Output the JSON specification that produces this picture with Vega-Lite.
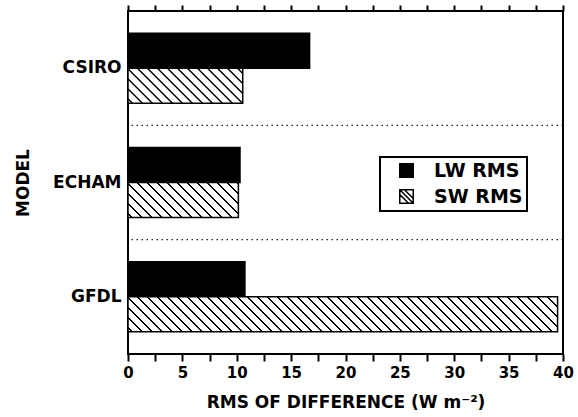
{
"$schema": "https://vega.github.io/schema/vega-lite/v6.json",
"width": 435, "height": 343,
"autosize": "none",
"padding": {"left": 128, "top": 11, "right": 15, "bottom": 63},
"background": "white",
"config": {"view": {"stroke": "black", "strokeWidth": 2}, "font": "DejaVu Sans", "axis": {"grid": false}},
"data": {"values": [
 {"model": "CSIRO", "type": "LW RMS", "value": 16.7},
 {"model": "CSIRO", "type": "SW RMS", "value": 10.55},
 {"model": "ECHAM", "type": "LW RMS", "value": 10.3},
 {"model": "ECHAM", "type": "SW RMS", "value": 10.15},
 {"model": "GFDL", "type": "LW RMS", "value": 10.75},
 {"model": "GFDL", "type": "SW RMS", "value": 39.5}
]},
"resolve": {"axis": {"x": "independent"}},
"layer": [
 {"mark": {"type": "bar", "stroke": "black", "strokeWidth": 1.5},
  "encoding": {
   "y": {"field": "model", "type": "nominal", "scale": {"domain": ["CSIRO", "ECHAM", "GFDL"], "paddingInner": 0, "paddingOuter": 0},
    "axis": {"title": "MODEL", "ticks": false, "domain": false, "labelFont": "DejaVu Sans", "labelFontWeight": "bold", "labelFontSize": 17, "labelColor": "black", "labelPadding": 7, "titleFont": "DejaVu Sans", "titleFontWeight": "bold", "titleFontSize": 17, "titleColor": "black", "titlePadding": 20}},
   "yOffset": {"field": "type", "type": "nominal", "scale": {"domain": ["LW RMS", "SW RMS"], "paddingInner": 0, "paddingOuter": 0.633}},
   "x": {"field": "value", "type": "quantitative", "scale": {"domain": [0, 40], "nice": false},
    "axis": {"orient": "bottom", "title": "RMS OF DIFFERENCE (W m⁻²)", "values": [0,2.5,5,7.5,10,12.5,15,17.5,20,22.5,25,27.5,30,32.5,35,37.5,40], "domain": false, "ticks": true, "tickSize": 7, "tickWidth": 2, "tickColor": "black", "labelExpr": "datum.value % 5 === 0 ? datum.label : ''", "labelOverlap": false, "labelFlush": false, "labelFont": "DejaVu Sans", "labelFontWeight": "bold", "labelFontSize": 15, "labelColor": "black", "labelPadding": 4, "titleFont": "DejaVu Sans", "titleFontWeight": "bold", "titleFontSize": 17, "titleColor": "black", "titlePadding": 14,
     "encode": {"ticks": {"update": {"y2": {"signal": "datum.value % 5 === 0 ? -7 : -4"}}}}}},
   "color": {"field": "type", "type": "nominal",
    "scale": {"domain": ["LW RMS", "SW RMS"], "range": ["black", "white"]},
    "condition": [
     {"test": "datum.model === 'CSIRO' && datum.type === 'SW RMS'", "value": {"gradient": "linear", "x1": 0, "y1": 1, "x2": 3.988, "y2": -0.2169, "stops": [
{"offset":0.006,"color":"#fff"},{"offset":0.007,"color":"#000"},{"offset":0.01,"color":"#000"},{"offset":0.011,"color":"#fff"},
{"offset":0.026,"color":"#fff"},{"offset":0.027,"color":"#000"},{"offset":0.03,"color":"#000"},{"offset":0.031,"color":"#fff"},
{"offset":0.046,"color":"#fff"},{"offset":0.047,"color":"#000"},{"offset":0.05,"color":"#000"},{"offset":0.051,"color":"#fff"},
{"offset":0.066,"color":"#fff"},{"offset":0.067,"color":"#000"},{"offset":0.07,"color":"#000"},{"offset":0.071,"color":"#fff"},
{"offset":0.086,"color":"#fff"},{"offset":0.087,"color":"#000"},{"offset":0.09,"color":"#000"},{"offset":0.091,"color":"#fff"},
{"offset":0.106,"color":"#fff"},{"offset":0.107,"color":"#000"},{"offset":0.11,"color":"#000"},{"offset":0.111,"color":"#fff"},
{"offset":0.126,"color":"#fff"},{"offset":0.127,"color":"#000"},{"offset":0.13,"color":"#000"},{"offset":0.131,"color":"#fff"},
{"offset":0.146,"color":"#fff"},{"offset":0.147,"color":"#000"},{"offset":0.15,"color":"#000"},{"offset":0.151,"color":"#fff"},
{"offset":0.166,"color":"#fff"},{"offset":0.167,"color":"#000"},{"offset":0.17,"color":"#000"},{"offset":0.171,"color":"#fff"},
{"offset":0.186,"color":"#fff"},{"offset":0.187,"color":"#000"},{"offset":0.19,"color":"#000"},{"offset":0.191,"color":"#fff"},
{"offset":0.206,"color":"#fff"},{"offset":0.207,"color":"#000"},{"offset":0.21,"color":"#000"},{"offset":0.211,"color":"#fff"},
{"offset":0.226,"color":"#fff"},{"offset":0.227,"color":"#000"},{"offset":0.23,"color":"#000"},{"offset":0.231,"color":"#fff"},
{"offset":0.246,"color":"#fff"},{"offset":0.247,"color":"#000"},{"offset":0.25,"color":"#000"},{"offset":0.251,"color":"#fff"},
{"offset":0.266,"color":"#fff"},{"offset":0.267,"color":"#000"},{"offset":0.27,"color":"#000"},{"offset":0.271,"color":"#fff"},
{"offset":0.286,"color":"#fff"},{"offset":0.287,"color":"#000"},{"offset":0.29,"color":"#000"},{"offset":0.291,"color":"#fff"}
     ]}},
     {"test": "datum.model === 'ECHAM' && datum.type === 'SW RMS'", "value": {"gradient": "linear", "x1": 0, "y1": 1, "x2": 4.115, "y2": -0.3047, "stops": [
{"offset":0.006,"color":"#fff"},{"offset":0.007,"color":"#000"},{"offset":0.01,"color":"#000"},{"offset":0.011,"color":"#fff"},
{"offset":0.026,"color":"#fff"},{"offset":0.027,"color":"#000"},{"offset":0.03,"color":"#000"},{"offset":0.031,"color":"#fff"},
{"offset":0.046,"color":"#fff"},{"offset":0.047,"color":"#000"},{"offset":0.05,"color":"#000"},{"offset":0.051,"color":"#fff"},
{"offset":0.066,"color":"#fff"},{"offset":0.067,"color":"#000"},{"offset":0.07,"color":"#000"},{"offset":0.071,"color":"#fff"},
{"offset":0.086,"color":"#fff"},{"offset":0.087,"color":"#000"},{"offset":0.09,"color":"#000"},{"offset":0.091,"color":"#fff"},
{"offset":0.106,"color":"#fff"},{"offset":0.107,"color":"#000"},{"offset":0.11,"color":"#000"},{"offset":0.111,"color":"#fff"},
{"offset":0.126,"color":"#fff"},{"offset":0.127,"color":"#000"},{"offset":0.13,"color":"#000"},{"offset":0.131,"color":"#fff"},
{"offset":0.146,"color":"#fff"},{"offset":0.147,"color":"#000"},{"offset":0.15,"color":"#000"},{"offset":0.151,"color":"#fff"},
{"offset":0.166,"color":"#fff"},{"offset":0.167,"color":"#000"},{"offset":0.17,"color":"#000"},{"offset":0.171,"color":"#fff"},
{"offset":0.186,"color":"#fff"},{"offset":0.187,"color":"#000"},{"offset":0.19,"color":"#000"},{"offset":0.191,"color":"#fff"},
{"offset":0.206,"color":"#fff"},{"offset":0.207,"color":"#000"},{"offset":0.21,"color":"#000"},{"offset":0.211,"color":"#fff"},
{"offset":0.226,"color":"#fff"},{"offset":0.227,"color":"#000"},{"offset":0.23,"color":"#000"},{"offset":0.231,"color":"#fff"},
{"offset":0.246,"color":"#fff"},{"offset":0.247,"color":"#000"},{"offset":0.25,"color":"#000"},{"offset":0.251,"color":"#fff"},
{"offset":0.266,"color":"#fff"},{"offset":0.267,"color":"#000"},{"offset":0.27,"color":"#000"},{"offset":0.271,"color":"#fff"},
{"offset":0.286,"color":"#fff"},{"offset":0.287,"color":"#000"},{"offset":0.29,"color":"#000"},{"offset":0.291,"color":"#fff"}
     ]}},
     {"test": "datum.model === 'GFDL' && datum.type === 'SW RMS'", "value": {"gradient": "linear", "x1": 0, "y1": 1, "x2": 1.1562, "y2": 0.9058, "stops": [
{"offset":0.006,"color":"#fff"},{"offset":0.007,"color":"#000"},{"offset":0.01,"color":"#000"},{"offset":0.011,"color":"#fff"},
{"offset":0.026,"color":"#fff"},{"offset":0.027,"color":"#000"},{"offset":0.03,"color":"#000"},{"offset":0.031,"color":"#fff"},
{"offset":0.046,"color":"#fff"},{"offset":0.047,"color":"#000"},{"offset":0.05,"color":"#000"},{"offset":0.051,"color":"#fff"},
{"offset":0.066,"color":"#fff"},{"offset":0.067,"color":"#000"},{"offset":0.07,"color":"#000"},{"offset":0.071,"color":"#fff"},
{"offset":0.086,"color":"#fff"},{"offset":0.087,"color":"#000"},{"offset":0.09,"color":"#000"},{"offset":0.091,"color":"#fff"},
{"offset":0.106,"color":"#fff"},{"offset":0.107,"color":"#000"},{"offset":0.11,"color":"#000"},{"offset":0.111,"color":"#fff"},
{"offset":0.126,"color":"#fff"},{"offset":0.127,"color":"#000"},{"offset":0.13,"color":"#000"},{"offset":0.131,"color":"#fff"},
{"offset":0.146,"color":"#fff"},{"offset":0.147,"color":"#000"},{"offset":0.15,"color":"#000"},{"offset":0.151,"color":"#fff"},
{"offset":0.166,"color":"#fff"},{"offset":0.167,"color":"#000"},{"offset":0.17,"color":"#000"},{"offset":0.171,"color":"#fff"},
{"offset":0.186,"color":"#fff"},{"offset":0.187,"color":"#000"},{"offset":0.19,"color":"#000"},{"offset":0.191,"color":"#fff"},
{"offset":0.206,"color":"#fff"},{"offset":0.207,"color":"#000"},{"offset":0.21,"color":"#000"},{"offset":0.211,"color":"#fff"},
{"offset":0.226,"color":"#fff"},{"offset":0.227,"color":"#000"},{"offset":0.23,"color":"#000"},{"offset":0.231,"color":"#fff"},
{"offset":0.246,"color":"#fff"},{"offset":0.247,"color":"#000"},{"offset":0.25,"color":"#000"},{"offset":0.251,"color":"#fff"},
{"offset":0.266,"color":"#fff"},{"offset":0.267,"color":"#000"},{"offset":0.27,"color":"#000"},{"offset":0.271,"color":"#fff"},
{"offset":0.286,"color":"#fff"},{"offset":0.287,"color":"#000"},{"offset":0.29,"color":"#000"},{"offset":0.291,"color":"#fff"},
{"offset":0.306,"color":"#fff"},{"offset":0.307,"color":"#000"},{"offset":0.31,"color":"#000"},{"offset":0.311,"color":"#fff"},
{"offset":0.326,"color":"#fff"},{"offset":0.327,"color":"#000"},{"offset":0.33,"color":"#000"},{"offset":0.331,"color":"#fff"},
{"offset":0.346,"color":"#fff"},{"offset":0.347,"color":"#000"},{"offset":0.35,"color":"#000"},{"offset":0.351,"color":"#fff"},
{"offset":0.366,"color":"#fff"},{"offset":0.367,"color":"#000"},{"offset":0.37,"color":"#000"},{"offset":0.371,"color":"#fff"},
{"offset":0.386,"color":"#fff"},{"offset":0.387,"color":"#000"},{"offset":0.39,"color":"#000"},{"offset":0.391,"color":"#fff"},
{"offset":0.406,"color":"#fff"},{"offset":0.407,"color":"#000"},{"offset":0.41,"color":"#000"},{"offset":0.411,"color":"#fff"},
{"offset":0.426,"color":"#fff"},{"offset":0.427,"color":"#000"},{"offset":0.43,"color":"#000"},{"offset":0.431,"color":"#fff"},
{"offset":0.446,"color":"#fff"},{"offset":0.447,"color":"#000"},{"offset":0.45,"color":"#000"},{"offset":0.451,"color":"#fff"},
{"offset":0.466,"color":"#fff"},{"offset":0.467,"color":"#000"},{"offset":0.47,"color":"#000"},{"offset":0.471,"color":"#fff"},
{"offset":0.486,"color":"#fff"},{"offset":0.487,"color":"#000"},{"offset":0.49,"color":"#000"},{"offset":0.491,"color":"#fff"},
{"offset":0.506,"color":"#fff"},{"offset":0.507,"color":"#000"},{"offset":0.51,"color":"#000"},{"offset":0.511,"color":"#fff"},
{"offset":0.526,"color":"#fff"},{"offset":0.527,"color":"#000"},{"offset":0.53,"color":"#000"},{"offset":0.531,"color":"#fff"},
{"offset":0.546,"color":"#fff"},{"offset":0.547,"color":"#000"},{"offset":0.55,"color":"#000"},{"offset":0.551,"color":"#fff"},
{"offset":0.566,"color":"#fff"},{"offset":0.567,"color":"#000"},{"offset":0.57,"color":"#000"},{"offset":0.571,"color":"#fff"},
{"offset":0.586,"color":"#fff"},{"offset":0.587,"color":"#000"},{"offset":0.59,"color":"#000"},{"offset":0.591,"color":"#fff"},
{"offset":0.606,"color":"#fff"},{"offset":0.607,"color":"#000"},{"offset":0.61,"color":"#000"},{"offset":0.611,"color":"#fff"},
{"offset":0.626,"color":"#fff"},{"offset":0.627,"color":"#000"},{"offset":0.63,"color":"#000"},{"offset":0.631,"color":"#fff"},
{"offset":0.646,"color":"#fff"},{"offset":0.647,"color":"#000"},{"offset":0.65,"color":"#000"},{"offset":0.651,"color":"#fff"},
{"offset":0.666,"color":"#fff"},{"offset":0.667,"color":"#000"},{"offset":0.67,"color":"#000"},{"offset":0.671,"color":"#fff"},
{"offset":0.686,"color":"#fff"},{"offset":0.687,"color":"#000"},{"offset":0.69,"color":"#000"},{"offset":0.691,"color":"#fff"},
{"offset":0.706,"color":"#fff"},{"offset":0.707,"color":"#000"},{"offset":0.71,"color":"#000"},{"offset":0.711,"color":"#fff"},
{"offset":0.726,"color":"#fff"},{"offset":0.727,"color":"#000"},{"offset":0.73,"color":"#000"},{"offset":0.731,"color":"#fff"},
{"offset":0.746,"color":"#fff"},{"offset":0.747,"color":"#000"},{"offset":0.75,"color":"#000"},{"offset":0.751,"color":"#fff"},
{"offset":0.766,"color":"#fff"},{"offset":0.767,"color":"#000"},{"offset":0.77,"color":"#000"},{"offset":0.771,"color":"#fff"},
{"offset":0.786,"color":"#fff"},{"offset":0.787,"color":"#000"},{"offset":0.79,"color":"#000"},{"offset":0.791,"color":"#fff"},
{"offset":0.806,"color":"#fff"},{"offset":0.807,"color":"#000"},{"offset":0.81,"color":"#000"},{"offset":0.811,"color":"#fff"},
{"offset":0.826,"color":"#fff"},{"offset":0.827,"color":"#000"},{"offset":0.83,"color":"#000"},{"offset":0.831,"color":"#fff"},
{"offset":0.846,"color":"#fff"},{"offset":0.847,"color":"#000"},{"offset":0.85,"color":"#000"},{"offset":0.851,"color":"#fff"},
{"offset":0.866,"color":"#fff"},{"offset":0.867,"color":"#000"},{"offset":0.87,"color":"#000"},{"offset":0.871,"color":"#fff"},
{"offset":0.886,"color":"#fff"},{"offset":0.887,"color":"#000"},{"offset":0.89,"color":"#000"},{"offset":0.891,"color":"#fff"},
{"offset":0.906,"color":"#fff"},{"offset":0.907,"color":"#000"},{"offset":0.91,"color":"#000"},{"offset":0.911,"color":"#fff"},
{"offset":0.926,"color":"#fff"},{"offset":0.927,"color":"#000"},{"offset":0.93,"color":"#000"},{"offset":0.931,"color":"#fff"}
     ]}}
    ],
    "legend": {"orient": "none", "legendX": 252, "legendY": 146, "title": null, "strokeColor": "black", "padding": 4, "symbolOffset": 13, "symbolSize": 182, "symbolType": "square", "symbolStrokeColor": "black", "symbolStrokeWidth": 1.5, "labelFont": "DejaVu Sans", "labelFontWeight": "bold", "labelFontSize": 19, "labelColor": "black", "labelOffset": 18, "rowPadding": 5,
     "encode": {"symbols": {"update": {"shape": {"signal": "datum.value === 'SW RMS' ? 'M-1,-1H1V1H-1Z M-1,-0.3L0.3,1 M-0.3,-1L1,0.3 M-1,-1L1,1' : 'square'"}}}, "legend": {"update": {"strokeWidth": {"value": 2}}}}}
   }
  }},
 {"data": {"values": [{"model": "ECHAM"}, {"model": "GFDL"}]},
  "mark": {"type": "rule", "strokeDash": [1.5, 3.5], "strokeWidth": 1.3, "color": "#222"},
  "encoding": {"y": {"field": "model", "type": "nominal", "bandPosition": 0, "axis": {"title": "MODEL"}}}},
 {"mark": {"type": "point", "opacity": 0},
  "encoding": {"x": {"field": "value", "type": "quantitative",
   "axis": {"orient": "top", "title": null, "labels": false, "domain": false, "ticks": true, "values": [0,2.5,5,7.5,10,12.5,15,17.5,20,22.5,25,27.5,30,32.5,35,37.5,40], "tickSize": 6, "tickWidth": 2, "tickColor": "black",
    "encode": {"ticks": {"update": {"y2": {"signal": "datum.value % 5 === 0 ? 6 : 4"}}}}}}}}
]
}
